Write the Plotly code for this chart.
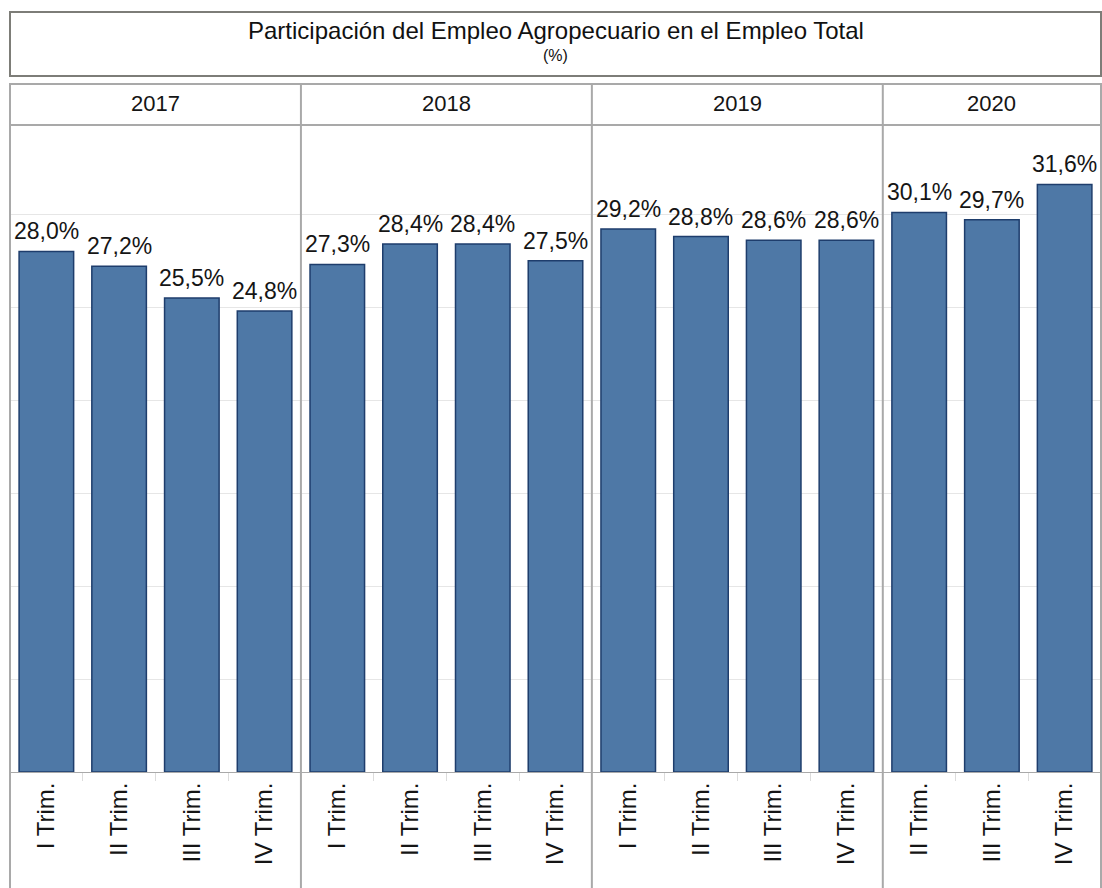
import plotly.graph_objects as go
from plotly.subplots import make_subplots

# ---- data ----
years = ["2017", "2018", "2019", "2020"]
quarters_2017 = ["I Trim.", "II Trim.", "III Trim.", "IV Trim."]
quarters_2018 = ["I Trim.", "II Trim.", "III Trim.", "IV Trim."]
quarters_2019 = ["I Trim.", "II Trim.", "III Trim.", "IV Trim."]
quarters_2020 = ["II Trim.", "III Trim.", "IV Trim."]
values_2017 = [28.0, 27.2, 25.5, 24.8]
values_2018 = [27.3, 28.4, 28.4, 27.5]
values_2019 = [29.2, 28.8, 28.6, 28.6]
values_2020 = [30.1, 29.7, 31.6]

title_text = "Participación del Empleo Agropecuario en el Empleo Total"
subtitle_text = "(%)"

quarters = [quarters_2017, quarters_2018, quarters_2019, quarters_2020]
values = [values_2017, values_2018, values_2019, values_2020]

FONT = "Liberation Sans, Arial, sans-serif"
BAR_FILL = "#4E78A6"
BAR_LINE = "#1E3D6C"
BORDER = "#a9a9a9"

W, H = 1102, 888
ML, MR, MT, MB = 10, 1, 125, 116
plot_h = H - MT - MB


def py(px):
    """pixel row -> paper y"""
    return (H - MB - px) / plot_h


fig = make_subplots(rows=1, cols=4, column_widths=[len(q) for q in quarters],
                    horizontal_spacing=0, shared_yaxes=True)

for i, (q, v) in enumerate(zip(quarters, values)):
    fig.add_trace(go.Bar(x=q, y=v, marker=dict(color=BAR_FILL,
                                               line=dict(color=BAR_LINE, width=1.5)),
                         showlegend=False, hoverinfo="x+y"),
                  row=1, col=i + 1)
    for cat, val in zip(q, v):
        fig.add_annotation(x=cat, y=val, xref=f"x{i + 1 if i else ''}",
                           yref=f"y{i + 1 if i else ''}",
                           text=f"{val:.1f}".replace(".", ",") + "%",
                           showarrow=False, xanchor="center", yanchor="bottom",
                           yshift=5,
                           font=dict(family=FONT, size=23, color="#151515"))

fig.update_traces(width=0.75)
fig.update_xaxes(type="category", showline=True, linecolor=BORDER, linewidth=1,
                 ticks="outside", tickson="boundaries", ticklen=8,
                 tickcolor="#dcdcdc", tickangle=-90,
                 tickfont=dict(family=FONT, size=24, color="#151515"),
                 showgrid=False, fixedrange=True)
fig.update_yaxes(range=[0, 34.8], dtick=5, showgrid=True, gridcolor="#e6e6e6",
                 gridwidth=1, showticklabels=False, zeroline=False,
                 ticks="", fixedrange=True)

# panel boundaries from subplot domains
doms = [fig.layout["xaxis" + (str(i + 1) if i else "")].domain for i in range(4)]
edges = [doms[0][0]] + [d[1] for d in doms]

shapes = []
# title box
shapes.append(dict(type="rect", xref="paper", yref="paper", x0=0, x1=1,
                   y0=py(76), y1=py(12), line=dict(color="#7d7d78", width=2)))
# header row
shapes.append(dict(type="rect", xref="paper", yref="paper", x0=0, x1=1,
                   y0=1.0, y1=py(84), line=dict(color=BORDER, width=2)))
# vertical panel separators
for e in edges:
    shapes.append(dict(type="line", xref="paper", yref="paper", x0=e, x1=e,
                       y0=py(H), y1=py(84), line=dict(color=BORDER, width=2)))
fig.update_layout(shapes=shapes)

for yr, d in zip(years, doms):
    fig.add_annotation(x=(d[0] + d[1]) / 2, y=py(104), xref="paper", yref="paper",
                       text=yr, showarrow=False, xanchor="center", yanchor="middle",
                       font=dict(family=FONT, size=22, color="#151515"))

fig.add_annotation(x=0.5, y=py(31), xref="paper", yref="paper", text=title_text,
                   showarrow=False, xanchor="center", yanchor="middle",
                   font=dict(family=FONT, size=24, color="#111"))
fig.add_annotation(x=0.5, y=py(56), xref="paper", yref="paper", text=subtitle_text,
                   showarrow=False, xanchor="center", yanchor="middle",
                   font=dict(family=FONT, size=16, color="#111"))

fig.update_layout(width=W, height=H, autosize=False,
                  margin=dict(l=ML, r=MR, t=MT, b=MB, pad=0),
                  paper_bgcolor="white", plot_bgcolor="white",
                  bargap=0.25, font=dict(family=FONT))

fig.write_html("out.html")
